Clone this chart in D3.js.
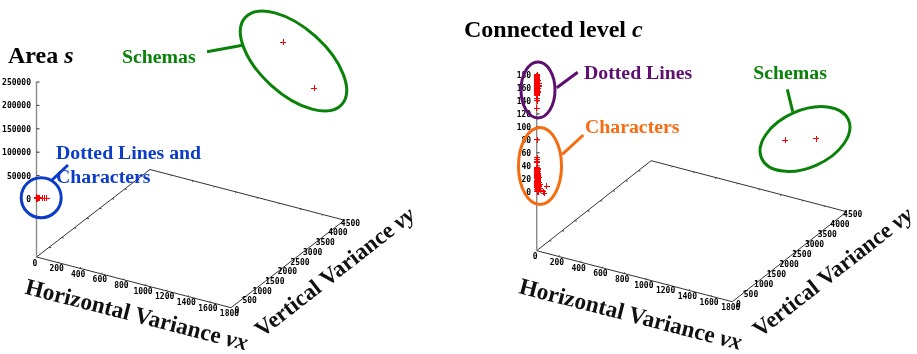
<!DOCTYPE html>
<html>
<head>
<meta charset="utf-8">
<script src="https://cdn.jsdelivr.net/npm/d3@7"></script>
<style>
  html, body { margin: 0; padding: 0; background: #fff; }
  svg { display: block; filter: blur(0.35px); }
  .tick-label { font: bold 8px "DejaVu Sans Mono", monospace; fill: #000; }
  .note { font: bold 19.8px "Liberation Serif", serif; }
  .title { font: bold 24px "Liberation Serif", serif; fill: #000; }
  .axis-title { font: bold 23.3px "Liberation Serif", serif; fill: #111; }
  .axis-title.vertical { font-size: 23px; }
</style>
</head>
<body>
<div id="chart"></div>
<script>
// tick labels
const xTicks = [0, 200, 400, 600, 800, 1000, 1200, 1400, 1600, 1800];
const yTicks = [0, 500, 1000, 1500, 2000, 2500, 3000, 3500, 4000, 4500];
const areaTicks = [0, 50000, 100000, 150000, 200000, 250000];
const levelTicks = [0, 20, 40, 60, 80, 100, 120, 140, 160, 180];

// samples
const schemaVx = [1265, 1530];
const schemaVy = [4370, 4455];
const schemaArea = [230000, 144000];
const schemaLevel = [0, 11];

const dottedLevel = [
  180, 179.5, 179, 178.5, 178, 177.5, 177, 176.5, 176, 175.5,
  175, 174.5, 174, 173.5, 173, 172.5, 172, 171.5, 171, 170.5,
  170, 169.5, 169, 168.5, 168, 167.5, 167, 166.5, 166, 165.5,
  165, 164.5, 164, 163.5, 163, 162.5, 162, 161.5, 161, 160.5,
  160, 159.5, 159, 158.5, 158, 157.5, 157, 156.5, 156, 155.5,
  155, 154.5, 154, 153.5, 153, 152.5, 152, 151.5, 151, 150.5,
  150, 148, 143, 140, 129];
const dottedVx = [
  2, 3, 1, 4, 2, 5, 3, 1, 4, 2,
  3, 1, 5, 2, 4, 1, 3, 6, 2, 4,
  1, 3, 5, 2, 4, 18, 3, 1, 5, 2,
  22, 4, 1, 3, 19, 2, 5, 1, 4, 3,
  2, 6, 1, 3, 5, 2, 4, 1, 3, 2,
  5, 1, 4, 2, 3, 6, 1, 3, 2, 4,
  2, 3, 1, 2, 1];
const dottedVy = [
  6, 10, 4, 12, 8, 5, 14, 3, 9, 7,
  11, 5, 8, 13, 4, 10, 6, 12, 3, 9,
  7, 14, 5, 11, 8, 10, 4, 12, 6, 9,
  10, 3, 13, 7, 8, 5, 11, 4, 9, 6,
  12, 8, 3, 10, 6, 14, 5, 9, 7, 4,
  11, 6, 13, 3, 8, 10, 5, 12, 7, 4,
  9, 6, 5, 4, 3];
const dottedArea = [
  800, 1000, 600, 1200, 900, 700, 1300, 500, 1100, 800,
  1000, 600, 1400, 700, 1200, 500, 900, 1500, 800, 1100,
  600, 1000, 1400, 700, 1300, 2000, 900, 500, 1200, 800,
  2200, 1100, 600, 900, 1900, 700, 1300, 500, 1000, 800,
  700, 1400, 500, 900, 1200, 600, 1100, 500, 800, 700,
  1300, 500, 1000, 700, 900, 1400, 500, 800, 600, 1000,
  700, 800, 600, 500, 400];

const charLevel = [
  80, 52, 50, 47, 45, 38, 37.5, 37, 36.5, 36,
  35.5, 35, 34.5, 34, 33.5, 33, 32.5, 32, 31.5, 31,
  30.5, 30, 29.5, 29, 28.5, 28, 27.5, 27, 26.5, 26,
  25.5, 25, 24.5, 24, 23.5, 23, 22.5, 22, 21.5, 21,
  20.5, 20, 19.5, 19, 18.5, 18, 17.5, 17, 16.5, 16,
  15.5, 15, 14.5, 14, 13.5, 13, 12.5, 12, 11.5, 11,
  10.5, 10, 9.5, 9, 8.5, 8, 7.5, 7, 6.5, 6,
  5.5, 5, 4.5, 4, 3.5, 3, 2.5, 2, 1.5, 1,
  0.5, 0, 26, 22, 18, 15, 12, 9, 6, 3,
  11.5, 2, 0];
const charVx = [
  2, 3, 2, 1, 4, 2, 4, 1, 3, 5,
  2, 4, 1, 6, 3, 2, 5, 1, 4, 3,
  6, 2, 4, 1, 7, 3, 5, 2, 8, 4,
  1, 6, 3, 9, 2, 5, 7, 1, 4, 10,
  3, 6, 2, 8, 11, 4, 1, 7, 5, 12,
  3, 9, 2, 6, 13, 4, 8, 1, 10, 5,
  14, 3, 7, 11, 2, 15, 6, 9, 4, 12,
  1, 16, 8, 5, 13, 3, 10, 18, 6, 2,
  14, 7, 12, 22, 9, 16, 25, 20, 28, 30,
  90, 55, 68];
const charVy = [
  10, 12, 8, 6, 9, 5, 11, 4, 7, 13,
  6, 10, 3, 8, 12, 5, 9, 7, 11, 4,
  13, 6, 8, 3, 10, 5, 12, 7, 9, 4,
  11, 6, 14, 8, 3, 10, 5, 12, 7, 9,
  4, 11, 6, 13, 8, 5, 10, 3, 7, 12,
  9, 4, 11, 6, 8, 13, 5, 10, 3, 7,
  12, 8, 4, 9, 6, 11, 3, 10, 7, 5,
  13, 8, 4, 11, 6, 9, 3, 7, 12, 5,
  10, 6, 8, 12, 5, 9, 7, 4, 8, 6,
  20, 20, 15];
const charArea = [
  3000, 2400, 2200, 2000, 1800, 1500, 1200, 1000, 1300, 900,
  1400, 800, 1100, 1600, 700, 1200, 1000, 1500, 600, 1300,
  900, 1700, 800, 1100, 1400, 700, 1600, 1000, 1200, 900,
  1500, 600, 1300, 1800, 800, 1100, 1600, 700, 1000, 2000,
  900, 1400, 600, 1700, 2100, 1000, 500, 1500, 1200, 2300,
  800, 1800, 700, 1300, 2400, 1000, 1600, 500, 2000, 1100,
  2500, 800, 1400, 2100, 600, 2600, 1200, 1700, 900, 2200,
  500, 2700, 1500, 1000, 2300, 700, 1800, 2900, 1200, 600,
  2400, 1300, 2000, 3000, 1600, 2500, 3200, 2800, 3500, 3600,
  6200, 3900, 4800];

const sampleVx = [...schemaVx, ...dottedVx, ...charVx];
const sampleVy = [...schemaVy, ...dottedVy, ...charVy];
const sampleArea = [...schemaArea, ...dottedArea, ...charArea];
const sampleLevel = [...schemaLevel, ...dottedLevel, ...charLevel];

const svg = d3.select("#chart").append("svg")
  .attr("width", 917)
  .attr("height", 354);

const green = "#0a820a", blue = "#0c3cc8", purple = "#5f0f70", orange = "#f56c12";

function drawPanel(p) {
  const g = svg.append("g");
  const u = d3.scaleLinear().domain([0, 1800]).range([0, 1]);
  const v = d3.scaleLinear().domain([0, 4500]).range([0, 1]);
  const z = d3.scaleLinear().domain(p.zDomain).range(p.zRange);

  // project vx, vy and height on the screen
  const sx = (a, b) => p.origin[0] + u(a) * p.xVec[0] + v(b) * p.yVec[0];
  const sy = (a, b) => p.origin[1] + u(a) * p.xVec[1] + v(b) * p.yVec[1];

  // floor
  const corners = [[0, 0], [1800, 0], [1800, 4500], [0, 4500], [0, 0]];
  g.append("path")
    .attr("d", d3.line().x(d => sx(d[0], d[1])).y(d => sy(d[0], d[1]))(corners))
    .attr("fill", "none")
    .attr("stroke", "#333")
    .attr("stroke-width", 1);

  // floor ticks, on both edges
  const xStub = 100, yStub = 45;
  xTicks.slice(1, -1).forEach(t => {
    [[0, yStub], [4500, 4500 - yStub]].forEach(([b0, b1]) => {
      g.append("line").attr("x1", sx(t, b0)).attr("y1", sy(t, b0)).attr("x2", sx(t, b1)).attr("y2", sy(t, b1))
        .attr("stroke", "#333").attr("stroke-width", 1);
    });
  });
  yTicks.slice(1, -1).forEach(t => {
    [[0, 18], [1800, 1782]].forEach(([a0, a1]) => {
      g.append("line").attr("x1", sx(a0, t)).attr("y1", sy(a0, t)).attr("x2", sx(a1, t)).attr("y2", sy(a1, t))
        .attr("stroke", "#333").attr("stroke-width", 1);
    });
  });

  g.selectAll(".x-label").data(xTicks).join("text")
    .attr("class", "tick-label x-label")
    .attr("x", d => sx(d, 0) - 1.5)
    .attr("y", d => sy(d, 0) + 8.5)
    .attr("text-anchor", "middle")
    .text(d => d);

  g.selectAll(".y-label").data(yTicks).join("text")
    .attr("class", "tick-label y-label")
    .attr("x", d => sx(1800, d) + 6)
    .attr("y", d => sy(1800, d) + 5.5)
    .attr("text-anchor", "middle")
    .text(d => d);

  // vertical axis
  g.append("line")
    .attr("x1", p.origin[0]).attr("y1", p.origin[1])
    .attr("x2", p.origin[0]).attr("y2", z(p.zDomain[1]))
    .attr("stroke", "#8a8a8a").attr("stroke-width", 1.4);
  g.selectAll(".z-tick").data(p.zTicks).join("line")
    .attr("class", "z-tick")
    .attr("x1", p.origin[0]).attr("y1", d => z(d))
    .attr("x2", p.origin[0] + 3).attr("y2", d => z(d))
    .attr("stroke", "#333").attr("stroke-width", 1);
  g.selectAll(".z-label").data(p.zTicks).join("text")
    .attr("class", "tick-label z-label")
    .attr("x", p.origin[0] - 5.5)
    .attr("y", d => z(d) + 3)
    .attr("text-anchor", "end")
    .text(d => d);

  // samples as red plus signs
  g.selectAll(".sample").data(d3.range(sampleVx.length)).join("path")
    .attr("class", "sample")
    .attr("d", "M-3,0H3M0,-3V3")
    .attr("transform", i => {
      const floorShift = sy(sampleVx[i], sampleVy[i]) - p.origin[1];
      return `translate(${sx(sampleVx[i], sampleVy[i])},${z(p.values[i]) + floorShift})`;
    })
    .attr("fill", "none")
    .attr("stroke", "#ff0000")
    .attr("stroke-width", 1)
    .attr("shape-rendering", "crispEdges");

  // titles
  const title = g.append("text").attr("class", "title").attr("x", p.title.x).attr("y", p.title.y);
  title.append("tspan").text(p.title.text + " ");
  title.append("tspan").attr("font-style", "italic").text(p.title.symbol);

  const tx = g.append("text").attr("class", "axis-title")
    .attr("transform", `translate(${p.xTitle[0]},${p.xTitle[1]}) rotate(14.4)`);
  tx.append("tspan").text("Horizontal Variance ");
  tx.append("tspan").attr("font-style", "italic").text("νx");

  const ty = g.append("text").attr("class", "axis-title vertical")
    .attr("transform", `translate(${p.yTitle[0]},${p.yTitle[1]}) rotate(-38)`);
  ty.append("tspan").text("Vertical Variance ");
  ty.append("tspan").attr("font-style", "italic").text("νy");

  // hand drawn callouts
  p.notes.forEach(n => {
    g.append("ellipse")
      .attr("rx", n.rx).attr("ry", n.ry)
      .attr("transform", `translate(${n.cx},${n.cy}) rotate(${n.angle})`)
      .attr("fill", "none")
      .attr("stroke", n.color)
      .attr("stroke-width", 3);
    g.append("line")
      .attr("x1", n.leader[0]).attr("y1", n.leader[1])
      .attr("x2", n.leader[2]).attr("y2", n.leader[3])
      .attr("stroke", n.color)
      .attr("stroke-width", 3);
    n.lines.forEach(l => {
      g.append("text").attr("class", "note")
        .attr("x", l.x).attr("y", l.y)
        .attr("fill", n.color)
        .text(l.text);
    });
  });
}

drawPanel({
  origin: [36.5, 257],
  xVec: [194.5, 50.7],
  yVec: [113.5, -87.5],
  zDomain: [0, 250000],
  zRange: [199, 82],
  zTicks: areaTicks,
  values: sampleArea,
  title: { text: "Area", symbol: "s", x: 8, y: 63 },
  xTitle: [24, 293.5],
  yTitle: [262, 338],
  notes: [
    { cx: 41.2, cy: 197.7, rx: 20, ry: 20, angle: 0, color: blue, leader: [52, 180, 68, 165],
      lines: [{ text: "Dotted Lines and", x: 56, y: 159 }, { text: "Characters", x: 56, y: 183 }] },
    { cx: 293.5, cy: 61, rx: 65, ry: 33, angle: 42, color: green, leader: [207, 51.7, 244, 45],
      lines: [{ text: "Schemas", x: 122, y: 62.7 }] }
  ]
});

drawPanel({
  origin: [536.7, 250.7],
  xVec: [195.6, 51],
  yVec: [114.4, -90],
  zDomain: [0, 180],
  zRange: [191.7, 75],
  zTicks: levelTicks,
  values: sampleLevel,
  title: { text: "Connected level", symbol: "c", x: 464, y: 37 },
  xTitle: [518, 293],
  yTitle: [760, 338],
  notes: [
    { cx: 538, cy: 90, rx: 17, ry: 28, angle: 0, color: purple, leader: [556.7, 87.7, 577.7, 72.3],
      lines: [{ text: "Dotted Lines", x: 584, y: 79 }] },
    { cx: 540, cy: 166, rx: 21.5, ry: 38.5, angle: 0, color: orange, leader: [562.3, 154.3, 583.3, 135],
      lines: [{ text: "Characters", x: 585, y: 133.3 }] },
    { cx: 805, cy: 139, rx: 47.5, ry: 28.5, angle: -24, color: green, leader: [787.3, 89.3, 792.7, 111.7],
      lines: [{ text: "Schemas", x: 753.3, y: 79.3 }] }
  ]
});
</script>
</body>
</html>
